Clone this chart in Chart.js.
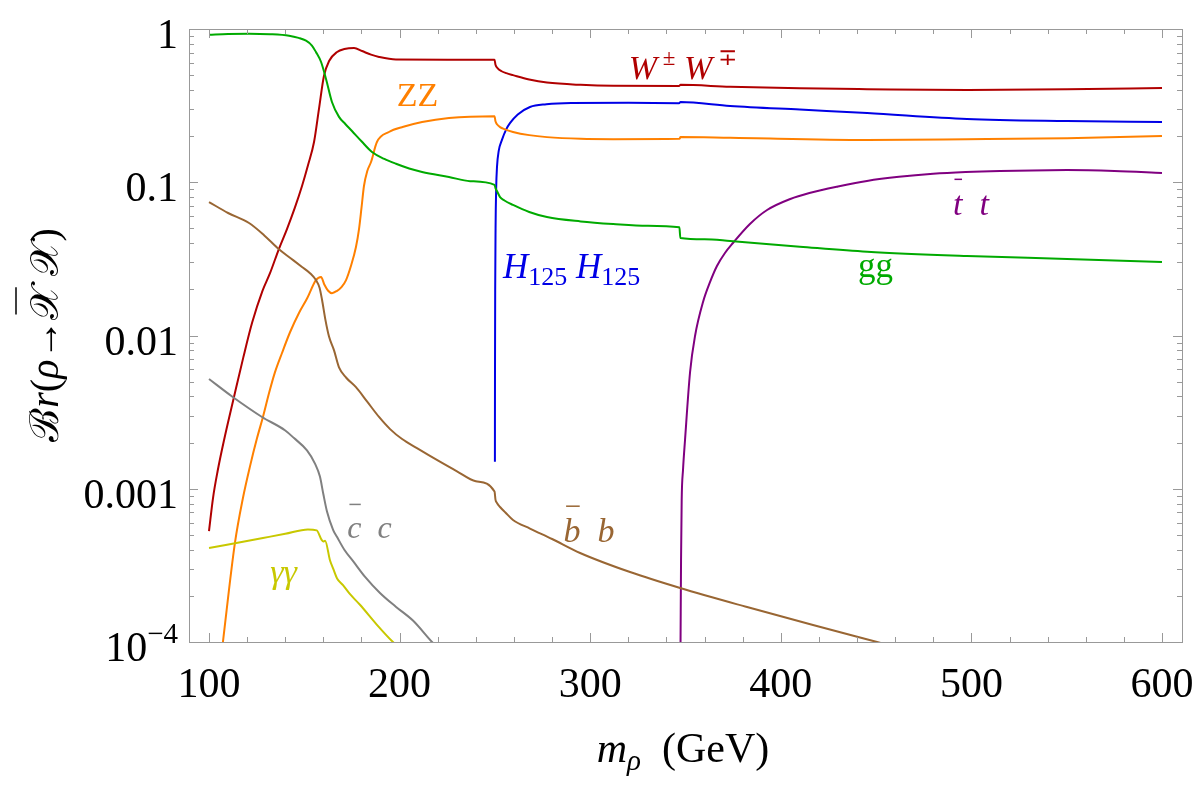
<!DOCTYPE html>
<html><head><meta charset="utf-8">
<script src="https://cdn.jsdelivr.net/npm/chart.js@4.4.1/dist/chart.umd.min.js"></script>
<style>html,body{margin:0;padding:0;background:#fff;}canvas{display:block;}</style>
</head><body>
<canvas id="c" width="1200" height="786"></canvas>
<script>
// ---------- data ----------
const wwX = [100, 102.1, 104.5, 107.9, 113.1, 118, 122.6, 128, 132, 136.7, 140.9, 145, 148.8, 152, 155.1, 157.7, 160.3, 163.0, 167.2, 171, 176.1, 180.3, 185, 189.2, 198.1, 225, 249.8, 250.3, 251.5, 253.5, 256, 259.5, 268, 277.3, 295, 312, 346.6, 347.4, 373.4, 410, 445.3, 497.7, 550.2, 600];
const wwY = [5.3e-4, 8.7e-4, 0.0013, 0.00208, 0.00397, 0.0072, 0.0121, 0.0195, 0.0255, 0.0368, 0.0495, 0.068, 0.0945, 0.13, 0.183, 0.301, 0.493, 0.618, 0.708, 0.74, 0.752, 0.718, 0.68, 0.657, 0.632, 0.63, 0.63, 0.585, 0.553, 0.53, 0.515, 0.5, 0.468, 0.447, 0.432, 0.426, 0.425, 0.432, 0.42, 0.41, 0.405, 0.40, 0.404, 0.412];

const ggX = [100, 110, 121, 132, 142, 147, 150.9, 154, 156.1, 158.8, 161.4, 164.5, 168.2, 171.5, 175, 180, 185.5, 192, 198.1, 205, 211.8, 225.9, 237, 249.8, 250.3, 251.2, 252.7, 255, 259.5, 268, 277.3, 295, 312, 330, 346.8, 347.3, 360, 373.4, 410, 445.3, 497.7, 550.2, 600];
const ggY = [0.918, 0.928, 0.932, 0.925, 0.904, 0.875, 0.839, 0.78, 0.708, 0.609, 0.472, 0.334, 0.267, 0.24, 0.216, 0.185, 0.1575, 0.142, 0.132, 0.123, 0.1167, 0.1082, 0.1017, 0.0962, 0.0915, 0.087, 0.080, 0.076, 0.0711, 0.064, 0.0593, 0.0555, 0.0534, 0.052, 0.0508, 0.0433, 0.0425, 0.0414, 0.038, 0.0352, 0.033, 0.0316, 0.0302];

const zzX = [100, 104, 107.3, 113.6, 117.8, 121.5, 125.2, 128.3, 131.5, 134.5, 138.3, 142.5, 147.2, 151.5, 156.1, 158.8, 160.5, 162.5, 164.5, 167, 169.5, 171.9, 174.5, 177.1, 178.7, 180, 181.3, 183, 185.0, 188.1, 194.4, 202, 211.8, 225.9, 249.8, 250.3, 251.2, 252.7, 255, 259.5, 268, 277.3, 295, 312, 346.8, 347.4, 373.4, 445.3, 497.7, 550.2, 600];
const zzY = [1.5e-5, 4.5e-5, 1e-4, 4.43e-4, 8.7e-4, 0.0014, 0.00214, 0.00294, 0.00421, 0.0057, 0.00769, 0.0105, 0.01403, 0.0175, 0.023, 0.0241, 0.0215, 0.0196, 0.0189, 0.0195, 0.0207, 0.023, 0.0285, 0.0378, 0.0495, 0.068, 0.0945, 0.118, 0.1355, 0.183, 0.2128, 0.23, 0.2472, 0.2626, 0.27, 0.25, 0.238, 0.229, 0.222, 0.213, 0.203, 0.197, 0.192, 0.191, 0.192, 0.197, 0.195, 0.189, 0.191, 0.194, 0.2];

const hhX = [250, 250.05, 250.15, 250.35, 250.65, 251.1, 252, 253.7, 256, 257.9, 262, 268.4, 277, 290, 320, 346.6, 347.4, 373.4, 410, 445.3, 497.7, 550.2, 600];
const hhY = [0.0015, 0.006, 0.02, 0.05, 0.09, 0.126, 0.16, 0.189, 0.222, 0.243, 0.277, 0.31, 0.323, 0.329, 0.33, 0.328, 0.334, 0.315, 0.298, 0.283, 0.259, 0.251, 0.247];

const ttX = [347.2, 347.4, 347.66, 348.0, 348.7, 349.75, 352.4, 355.0, 359.2, 362.9, 366.5, 370.7, 374.9, 383.8, 392.8, 405, 415, 430, 445.2, 462, 479.9, 497, 515, 532, 550.2, 575, 600];
const ttY = [4e-5, 1e-4, 3.4e-4, 8.45e-4, 0.00133, 0.00208, 0.00578, 0.00993, 0.01654, 0.02235, 0.0284, 0.03453, 0.04014, 0.0534, 0.0659, 0.0778, 0.0851, 0.0939, 0.102, 0.1085, 0.1135, 0.1165, 0.1185, 0.1195, 0.12, 0.1185, 0.115];

const bbX = [100, 110, 121, 129, 136.7, 143, 148.8, 153, 156.1, 158, 159.3, 161, 163, 165.6, 168.2, 172, 177.1, 183, 189.2, 195, 201.3, 209.1, 220, 230.1, 240, 249.8, 250.3, 251.1, 252.7, 255.5, 259.5, 268.4, 280, 294.7, 320.9, 347.2, 382.3, 416.9, 450.5, 480];
const bbY = [0.0743, 0.063, 0.0542, 0.045, 0.0365, 0.0318, 0.028, 0.0255, 0.023, 0.0205, 0.0171, 0.0128, 0.0098, 0.008, 0.0062, 0.0053, 0.0046, 0.0037, 0.00294, 0.00245, 0.00211, 0.00184, 0.00153, 0.0013, 0.00112, 9.6e-4, 8.5e-4, 8.07e-4, 7.6e-4, 7.0e-4, 6.25e-4, 5.5e-4, 4.7e-4, 3.81e-4, 2.86e-4, 2.25e-4, 1.69e-4, 1.29e-4, 1e-4, 8e-5];

const ccX = [100, 112.1, 127.8, 140, 144.6, 151.4, 155.6, 158.2, 160, 161.9, 165.1, 167.2, 171, 175.6, 182, 189.7, 198, 207, 217, 225];
const ccY = [0.0052, 0.004, 0.00294, 0.0024, 0.00214, 0.00178, 0.00146, 0.0012, 0.00092, 7.1e-4, 5.4e-4, 4.84e-4, 4.0e-4, 3.37e-4, 2.65e-4, 2.09e-4, 1.7e-4, 1.38e-4, 1e-4, 8e-5];

const aaX = [100, 128.3, 140, 151.9, 156.5, 159.1, 160.0, 160.9, 163.5, 165.2, 167.2, 170.3, 174, 179.2, 188, 196.5, 205];
const aaY = [4.1e-4, 4.77e-4, 5.08e-4, 5.43e-4, 5.35e-4, 4.64e-4, 4.53e-4, 4.58e-4, 3.4e-4, 3.0e-4, 2.6e-4, 2.35e-4, 2.05e-4, 1.75e-4, 1.3e-4, 1e-4, 8e-5];

// ticks
const xMajorTicks = [100, 200, 300, 400, 500, 600];
const xTickLabels = ['100', '200', '300', '400', '500', '600'];
const xMinorTicks = [120, 140, 160, 180, 220, 240, 260, 280, 320, 340, 360, 380, 420, 440, 460, 480, 520, 540, 560, 580];
const yMajorTicks = [1e-4, 1e-3, 1e-2, 0.1, 1];
const yTickLabels = ['10^-4', '0.001', '0.01', '0.1', '1'];
const yMinorMultipliers = [2, 3, 4, 5, 6, 7, 8, 9];

// ---------- styles ----------
const SERIF = '"Liberation Serif","DejaVu Serif",serif';
const C = {ww:'#b00000', gg:'#00aa00', zz:'#ff8000', hh:'#0000e6', tt:'#800080', bb:'#996633', cc:'#808080', aa:'#c8c800'};
const AXIS = '#999999';

function pts(xs, ys){ return xs.map((x, i) => ({x: x, y: ys[i]})); }
function ds(xs, ys, col){
  return {data: pts(xs, ys), borderColor: col, borderWidth: 2, pointRadius: 0,
          fill: false, cubicInterpolationMode: 'monotone', clip: 0};
}

// label annotations (data coordinates), drawn as real text
const seriesLabels = [
  {x: 348.7, y: 0.472, col: C.ww, size: 34, align: 'center',
   parts: [{t:'W', i:1}, {t:' ±', sup:1}, {t:' '}, {t:'W', i:1}, {t:' ∓', sup:1}]},
  {x: 209.4, y: 0.3145, col: C.zz, size: 34, align: 'center', parts: [{t:'ZZ'}]},
  {x: 254.2, y: 0.0237, col: C.hh, size: 35, align: 'left', subScale: 0.74,
   parts: [{t:'H', i:1}, {t:'125', sub:1}, {t:' '}, {t:'H', i:1}, {t:'125', sub:1}]},
  {x: 449.7, y: 0.0241, col: C.gg, size: 35, align: 'center', parts: [{t:'gg'}]},
  {x: 499.8, y: 0.0611, col: C.tt, size: 34, align: 'center', parts: [{t:'t', i:1, bar:1}, {t:'  '}, {t:'t', i:1}]},
  {x: 184.2, y: 4.77e-4, col: C.cc, size: 32, align: 'center', parts: [{t:'c', i:1, bar:1}, {t:'  '}, {t:'c', i:1}]},
  {x: 299.4, y: 4.5e-4, col: C.bb, size: 34, align: 'center', parts: [{t:'b', i:1, bar:1}, {t:'  '}, {t:'b', i:1}]},
  {x: 139.1, y: 2.43e-4, col: C.aa, size: 34, align: 'center', parts: [{t:'γγ', i:1}]}
];

function fontFor(p, size, sc){
  const s = (p.sup || p.sub) ? Math.round(size * (sc || 0.68)) : size;
  return (p.i ? 'italic ' : '') + s + 'px ' + SERIF;
}
function richWidth(ctx, parts, size, sc){
  let w = 0;
  for (const p of parts){ ctx.font = fontFor(p, size, sc); w += ctx.measureText(p.t).width; }
  return w;
}
function drawRich(ctx, parts, x, y, size, align, col, sc){
  const w = richWidth(ctx, parts, size, sc);
  let cx = align === 'center' ? x - w / 2 : (align === 'right' ? x - w : x);
  ctx.fillStyle = col; ctx.strokeStyle = col; ctx.textAlign = 'left'; ctx.textBaseline = 'alphabetic';
  for (const p of parts){
    ctx.font = fontFor(p, size, sc);
    const pw = ctx.measureText(p.t).width;
    let dy = 0;
    if (p.sup) dy = -size * 0.42;
    if (p.sub) dy = size * 0.2;
    ctx.fillText(p.t, cx, y + dy);
    if (p.bar){
      ctx.lineWidth = 1.5;
      ctx.beginPath();
      const by = y - size * 1.05;
      ctx.moveTo(cx + pw * 0.15, by); ctx.lineTo(cx + pw * 0.95, by); ctx.stroke();
    }
    cx += pw;
  }
}

const framePlugin = {
  id: 'framePlugin',
  afterDatasetsDraw(chart){
    const ctx = chart.ctx, a = chart.chartArea;
    const xs = chart.scales.x, ys = chart.scales.y;
    ctx.save();
    ctx.strokeStyle = AXIS; ctx.lineWidth = 1;
    ctx.strokeRect(Math.round(a.left) + 0.5, Math.round(a.top) + 0.5, Math.round(a.right - a.left), Math.round(a.bottom - a.top));
    ctx.beginPath();
    const xt = (v, len) => {
      const px = Math.round(xs.getPixelForValue(v)) + 0.5;
      ctx.moveTo(px, a.bottom); ctx.lineTo(px, a.bottom - len);
      ctx.moveTo(px, a.top); ctx.lineTo(px, a.top + len);
    };
    xMajorTicks.forEach(v => xt(v, 9));
    xMinorTicks.forEach(v => xt(v, 5));
    const yt = (v, len) => {
      const py = Math.round(ys.getPixelForValue(v)) + 0.5;
      ctx.moveTo(a.left, py); ctx.lineTo(a.left + len, py);
      ctx.moveTo(a.right, py); ctx.lineTo(a.right - len, py);
    };
    yMajorTicks.forEach(v => yt(v, 9));
    for (let k = 0; k < yMajorTicks.length - 1; k++)
      yMinorMultipliers.forEach(m => yt(yMajorTicks[k] * m, 5));
    ctx.stroke();
    ctx.restore();
  },
  afterDraw(chart){
    const ctx = chart.ctx, a = chart.chartArea;
    const xs = chart.scales.x, ys = chart.scales.y;
    ctx.save();
    // x tick labels
    ctx.fillStyle = '#000'; ctx.font = '42px ' + SERIF; ctx.textAlign = 'center'; ctx.textBaseline = 'alphabetic';
    xMajorTicks.forEach((v, i) => ctx.fillText(xTickLabels[i], xs.getPixelForValue(v), a.bottom + 55));
    // y tick labels
    yMajorTicks.forEach((v, i) => {
      const py = ys.getPixelForValue(v) + 19;
      const lab = yTickLabels[i];
      if (lab.indexOf('^') >= 0){
        const [b, e] = lab.split('^');
        drawRich(ctx, [{t:b}, {t:e.replace('-', '−'), sup:1}], a.left - 11, py, 42, 'right', '#000');
      } else {
        ctx.font = '42px ' + SERIF; ctx.textAlign = 'right'; ctx.fillStyle = '#000';
        ctx.fillText(lab, a.left - 11, py);
      }
    });
    // x axis title
    drawRich(ctx, [{t:'m', i:1}, {t:'ρ', i:1, sub:1}, {t:'  (GeV)'}], 683, 762, 42, 'center', '#000');
    // y axis title (rotated)
    ctx.translate(58, 335);
    ctx.rotate(-Math.PI / 2);
    drawRich(ctx, [{t:'ℬ'}, {t:'r', i:1}, {t:'('}, {t:'ρ', i:1}, {t:'→'}, {t:'𝒳', bar:1}, {t:' '}, {t:'𝒳'}, {t:')'}], 0, 0, 40, 'center', '#000');
    ctx.setTransform(1, 0, 0, 1, 0, 0);
    // series labels
    seriesLabels.forEach(L => {
      drawRich(ctx, L.parts, xs.getPixelForValue(L.x), ys.getPixelForValue(L.y), L.size, L.align, L.col, L.subScale);
    });
    ctx.restore();
  }
};

new Chart(document.getElementById('c').getContext('2d'), {
  type: 'line',
  data: {
    datasets: [
      ds(ggX, ggY, C.gg),
      ds(bbX, bbY, C.bb),
      ds(ccX, ccY, C.cc),
      ds(aaX, aaY, C.aa),
      ds(zzX, zzY, C.zz),
      ds(wwX, wwY, C.ww),
      ds(hhX, hhY, C.hh),
      ds(ttX, ttY, C.tt)
    ]
  },
  options: {
    responsive: false, animation: false, devicePixelRatio: 1,
    parsing: true,
    layout: {padding: {left: 189, right: 18, top: 29, bottom: 144}},
    scales: {
      x: {type: 'linear', min: 89.5, max: 610.5, display: false},
      y: {type: 'logarithmic', min: 1e-4, max: 1, display: false}
    },
    plugins: {legend: {display: false}, tooltip: {enabled: false}}
  },
  plugins: [framePlugin]
});
</script>
</body></html>
